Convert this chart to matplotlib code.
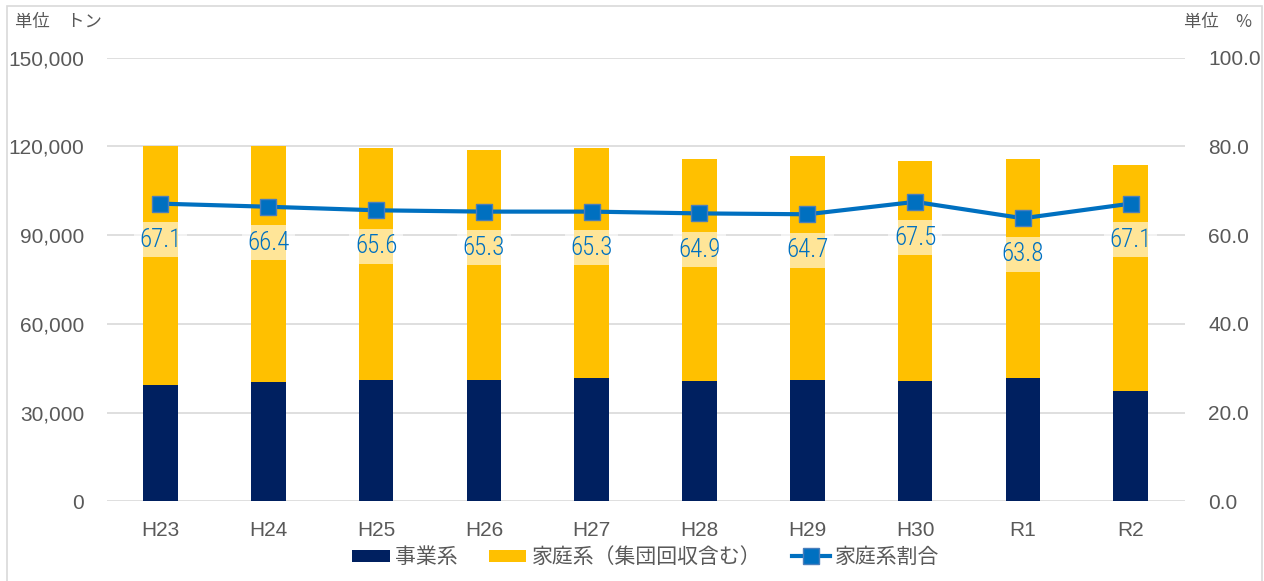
import numpy as np
import matplotlib
matplotlib.use("Agg")
import matplotlib.pyplot as plt
from matplotlib import font_manager as fm
from matplotlib.patches import Rectangle, Patch
from matplotlib.lines import Line2D

# data
years = ['H23', 'H24', 'H25', 'H26', 'H27', 'H28', 'H29', 'H30', 'R1', 'R2']
business = [39250, 40260, 41170, 41170, 41730, 40710, 41170, 40710, 41730, 37330]
total = [120100, 120000, 119550, 118650, 119550, 115700, 116700, 115160, 115700, 113800]
household = [t - b for t, b in zip(total, business)]
ratio = [67.1, 66.4, 65.6, 65.3, 65.3, 64.9, 64.7, 67.5, 63.8, 67.1]

NAVY = '#002060'
GOLD = '#FFC000'
BLUE = '#0070C0'
GRAY = '#595959'
GRID = '#D9D9D9'
CJK = ['Noto Sans CJK JP', 'DejaVu Sans']
NUM = ['Liberation Sans', 'DejaVu Sans']


def has_font(name):
    try:
        fm.findfont(fm.FontProperties(family=name), fallback_to_default=False)
        return True
    except Exception:
        return False


# narrow font for the data labels, if there is one
label_font, label_size = ['Liberation Sans', 'DejaVu Sans'], 15.5
for cand in ['Liberation Sans Narrow', 'Roboto Condensed', 'Open Sans Condensed']:
    if has_font(cand):
        label_font, label_size = [cand, 'DejaVu Sans'], 18
        break

fig = plt.figure(figsize=(12.64, 5.81), dpi=100)
ax = fig.add_axes([0.0843, 0.1372, 0.9372 - 0.0843, 0.9007 - 0.1372])
ax2 = ax.twinx()

x = np.arange(len(years))
w = 0.32
ax.bar(x, business, w, color=NAVY, zorder=2)
ax.bar(x, household, w, bottom=business, color=GOLD, zorder=2)

ax.set_ylim(0, 150000)
ax.set_xlim(-0.5, len(years) - 0.5)
ax.set_yticks(np.arange(0, 150001, 30000))
ax.set_yticklabels([f'{v:,}' for v in range(0, 150001, 30000)])
ax.set_xticks(x)
ax.set_xticklabels(years)
ax.grid(axis='y', color=GRID, linewidth=1.2, zorder=0)
ax.set_axisbelow(True)

ax2.set_ylim(0, 100)
ax2.set_yticks(np.arange(0, 101, 20))
ax2.set_yticklabels([f'{v:.1f}' for v in range(0, 101, 20)])

for a in (ax, ax2):
    for s in a.spines.values():
        s.set_visible(False)
    a.tick_params(length=0, labelsize=15, labelcolor=GRAY)
    for lab in a.get_yticklabels() + a.get_xticklabels():
        lab.set_family(NUM)
ax.tick_params(axis='y', pad=16)
ax2.tick_params(axis='y', pad=17)
ax.tick_params(axis='x', pad=14)

ax2.plot(x, ratio, color=BLUE, linewidth=3, marker='s', markersize=11,
         markerfacecolor=BLUE, markeredgecolor='#4A7EBB', markeredgewidth=1, zorder=5)

for xi, r in zip(x, ratio):
    ax2.annotate(f'{r:.1f}', (xi, r), xytext=(0, -26), textcoords='offset points',
                 ha='center', va='center', fontsize=label_size, color=BLUE,
                 family=label_font, fontweight='light',
                 bbox=dict(boxstyle='square,pad=0.22', facecolor='white', alpha=0.6, edgecolor='none'),
                 zorder=4)

# units
fig.text(15 / 1264, 1 - 22 / 581, '単位\u3000トン', fontsize=12.5, color=GRAY, family=CJK,
         ha='left', va='center')
fig.text(1252 / 1264, 1 - 22 / 581, '単位\u3000%', fontsize=12.5, color=GRAY, family=CJK,
         ha='right', va='center')

handles = [Patch(facecolor=NAVY), Patch(facecolor=GOLD),
           Line2D([0], [0], color=BLUE, linewidth=3, marker='s', markersize=11,
                  markerfacecolor=BLUE, markeredgecolor='#4A7EBB')]
labels = ['事業系', '家庭系（集団回収含む）', '家庭系割合']
fig.legend(handles, labels, loc='center', bbox_to_anchor=(0.511, 1 - 557 / 581), ncol=3,
           frameon=False, prop={'family': CJK, 'size': 15}, labelcolor=GRAY,
           handlelength=1.8, handleheight=0.5, handletextpad=0.25, columnspacing=1.5)

# chart border
fig.patches.append(Rectangle((7 / 1264, -0.01), 1255 / 1264, 1 - 6 / 581 + 0.01,
                             transform=fig.transFigure, fill=False, edgecolor=GRID, linewidth=1.2))

fig.savefig('out.png', dpi=100)
